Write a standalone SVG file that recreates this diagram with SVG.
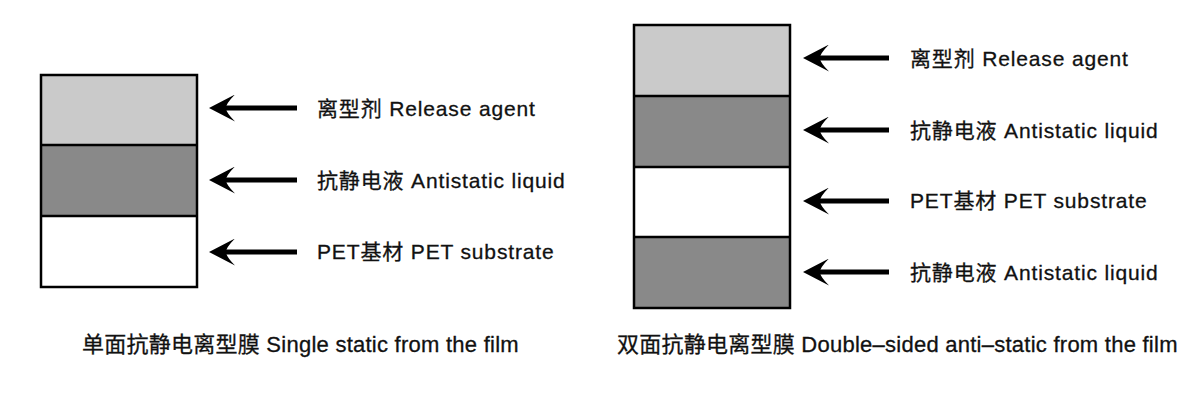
<svg xmlns="http://www.w3.org/2000/svg" width="1200" height="400" viewBox="0 0 1200 400">
<style>
.lt{fill:#cacaca}.dk{fill:#898989}.wh{fill:#ffffff}
.frame{fill:none;stroke:#000;stroke-width:2.5}
.div{stroke:#000;stroke-width:2.5}
.conn{stroke:#000;stroke-width:5;fill:none;marker-start:url(#ah)}
text{font-family:"Liberation Sans","Noto Sans CJK SC",sans-serif;fill:#111;stroke:#111;stroke-width:0.3px}
.lbl{font-size:21px;letter-spacing:0.85px}
.cap{font-size:22px;letter-spacing:0.25px}
</style>
<defs>
<marker id="ah" viewBox="0 0 26 27" refX="6" refY="13.5" markerWidth="26" markerHeight="27" markerUnits="userSpaceOnUse" orient="auto">
<path d="M0,13.5 L26,0 Q17,9 17,13.5 Q17,18 26,27 Z" fill="#000"/>
</marker>
</defs>
<rect width="1200" height="400" fill="#fff"/>
<g id="single-film">
<rect class="lt" x="41" y="75" width="156" height="70"/>
<rect class="dk" x="41" y="145" width="156" height="71"/>
<rect class="wh" x="41" y="216" width="156" height="71"/>
<line class="div" x1="41" y1="145" x2="197" y2="145"/>
<line class="div" x1="41" y1="216" x2="197" y2="216"/>
<rect class="frame" x="41" y="75" width="156" height="212"/>
</g>
<g id="double-film">
<rect class="lt" x="634" y="25" width="156" height="71"/>
<rect class="dk" x="634" y="96" width="156" height="71"/>
<rect class="wh" x="634" y="167" width="156" height="70"/>
<rect class="dk" x="634" y="237" width="156" height="71"/>
<line class="div" x1="634" y1="96" x2="790" y2="96"/>
<line class="div" x1="634" y1="167" x2="790" y2="167"/>
<line class="div" x1="634" y1="237" x2="790" y2="237"/>
<rect class="frame" x="634" y="25" width="156" height="283"/>
</g>
<g id="connectors">
<line class="conn" x1="215" y1="108" x2="297" y2="108"/>
<line class="conn" x1="215" y1="180" x2="297" y2="180"/>
<line class="conn" x1="215" y1="252" x2="297" y2="252"/>
<line class="conn" x1="809" y1="58" x2="889" y2="58"/>
<line class="conn" x1="809" y1="130" x2="889" y2="130"/>
<line class="conn" x1="809" y1="201" x2="889" y2="201"/>
<line class="conn" x1="809" y1="272" x2="889" y2="272"/>
</g>
<g id="labels-single">
<text class="lbl" x="317" y="116">离型剂 Release agent</text>
<text class="lbl" x="317" y="188">抗静电液 Antistatic liquid</text>
<text class="lbl" x="317" y="259">PET基材 PET substrate</text>
</g>
<g id="labels-double">
<text class="lbl" x="910" y="66">离型剂 Release agent</text>
<text class="lbl" x="910" y="138">抗静电液 Antistatic liquid</text>
<text class="lbl" x="910" y="208">PET基材 PET substrate</text>
<text class="lbl" x="910" y="280">抗静电液 Antistatic liquid</text>
</g>
<g id="captions">
<text class="cap" x="82" y="352">单面抗静电离型膜 Single static from the film</text>
<text class="cap" x="617" y="352">双面抗静电离型膜 Double–sided anti–static from the film</text>
</g>
</svg>
